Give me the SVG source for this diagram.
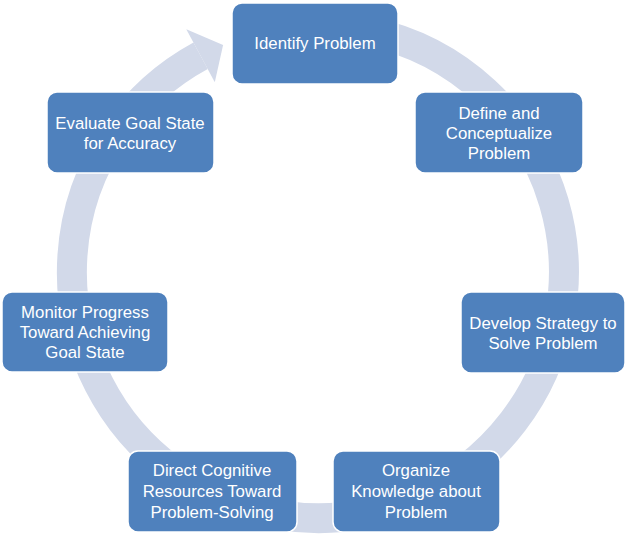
<svg xmlns="http://www.w3.org/2000/svg" width="630" height="536" viewBox="0 0 630 536">
<style>
.box{fill:#4F81BD;stroke:#ffffff;stroke-width:1.5}
.t{font-family:"Liberation Sans",Arial,sans-serif;font-size:16.8px;fill:#ffffff;text-anchor:middle}
.ring{fill:none;stroke:#D2D9E9;stroke-width:30}
</style>
<rect width="630" height="536" fill="#ffffff"/>
<g id="connectors">
<path class="ring" d="M254.3 34.4 A246 246 0 1 1 200.6 55.8"/>
<polygon points="186.3,29.3 223.1,45.1 214.8,82.3" fill="#D2D9E9"/>
</g>
<g id="identify">
<rect class="box" x="232" y="3" width="166" height="81" rx="10"/>
<text class="t" x="315" y="49">Identify Problem</text>
</g>
<g id="define">
<rect class="box" x="415" y="92" width="168" height="81" rx="10"/>
<text class="t" x="499" y="119">Define and</text>
<text class="t" x="499" y="139">Conceptualize</text>
<text class="t" x="499" y="159">Problem</text>
</g>
<g id="develop">
<rect class="box" x="461" y="292" width="164" height="81" rx="10"/>
<text class="t" x="543" y="329">Develop Strategy to</text>
<text class="t" x="543" y="349">Solve Problem</text>
</g>
<g id="organize">
<rect class="box" x="333" y="451" width="167" height="81" rx="10"/>
<text class="t" x="416" y="476">Organize</text>
<text class="t" x="416" y="497">Knowledge about</text>
<text class="t" x="416" y="518">Problem</text>
</g>
<g id="direct">
<rect class="box" x="128" y="451" width="169" height="81" rx="10"/>
<text class="t" x="212" y="476">Direct Cognitive</text>
<text class="t" x="212" y="497">Resources Toward</text>
<text class="t" x="212" y="518">Problem-Solving</text>
</g>
<g id="monitor">
<rect class="box" x="2" y="292" width="166" height="80" rx="10"/>
<text class="t" x="85" y="318">Monitor Progress</text>
<text class="t" x="85" y="338">Toward Achieving</text>
<text class="t" x="85" y="358">Goal State</text>
</g>
<g id="evaluate">
<rect class="box" x="47" y="92" width="167" height="81" rx="10"/>
<text class="t" x="130" y="129">Evaluate Goal State</text>
<text class="t" x="130" y="149">for Accuracy</text>
</g>
</svg>
